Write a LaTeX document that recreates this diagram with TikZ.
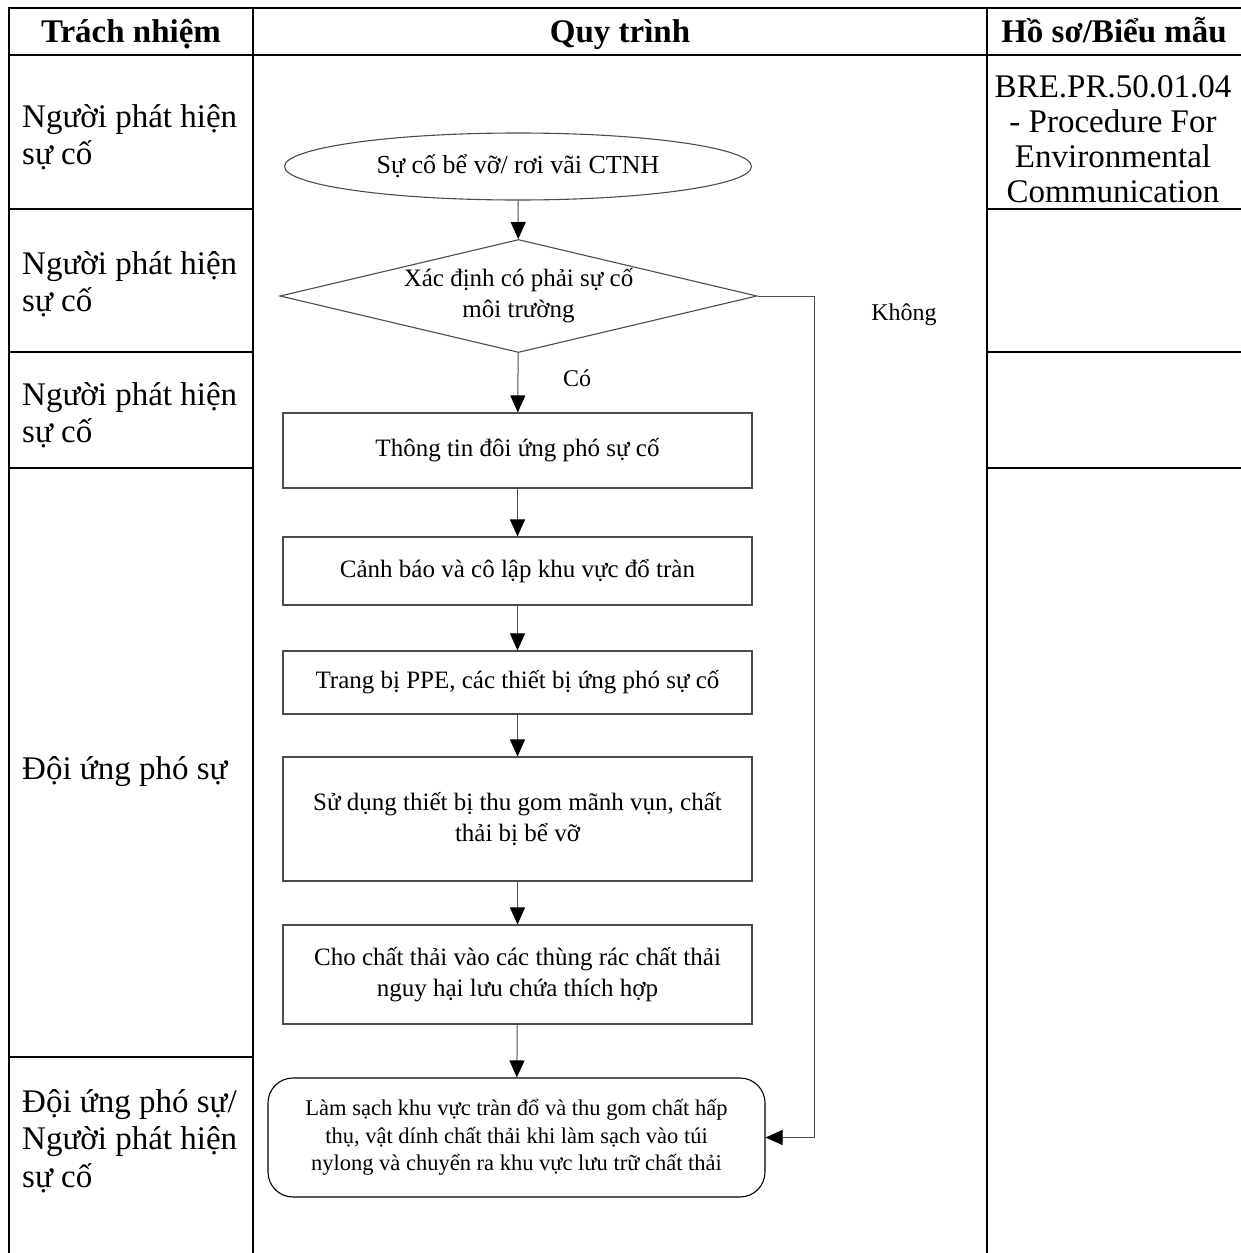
\documentclass[tikz,border=0pt]{standalone}
\usepackage{fontspec}
\setmainfont{Liberation Serif}
\usetikzlibrary{shapes.geometric,arrows.meta}

\begin{document}
\begin{tikzpicture}[x=1pt,y=-1pt,
  grid/.style={line width=2.6pt, black, line cap=rect},
  flow/.style={draw=black!70, line width=1.1pt, inner sep=0pt, align=center,
    font=\fontsize{25}{31}\selectfont},
  stepbox/.style={flow, rectangle, minimum width=469pt},
  link/.style={draw=black!70, line width=1pt, -{Triangle[length=17pt,width=15pt,black]}},
  lane/.style={anchor=west, align=left, inner sep=0pt, font=\fontsize{33}{37.5}\selectfont},
  head/.style={anchor=base, inner sep=0pt, font=\bfseries\fontsize{33}{37}\selectfont},
  note/.style={inner sep=0pt, font=\fontsize{24}{30}\selectfont},
]
\useasboundingbox (0,0) rectangle (1241,1253);

% table frame
\draw[grid] (9,8) -- (1241,8);
\draw[grid] (9,55) -- (1241,55);
\draw[grid] (9,8) -- (9,1253);
\draw[grid] (253,8) -- (253,1253);
\draw[grid] (987,8) -- (987,1253);
\foreach \y in {209,352,468,1057} \draw[grid] (9,\y) -- (253,\y);
\foreach \y in {209,352,468} \draw[grid] (987,\y) -- (1241,\y);

% header
\node[head] (h1) at (131,42) {Trách nhiệm};
\node[head] (h2) at (620,42) {Quy trình};
\node[head] (h3) at (1114,42) {Hồ sơ/Biểu mẫu};

% responsibility column
\node[lane] (r1) at (22,137) {Người phát hiện\\sự cố};
\node[lane] (r2) at (22,284) {Người phát hiện\\sự cố};
\node[lane] (r3) at (22,415) {Người phát hiện\\sự cố};
\node[lane] (r4) at (22,772) {Đội ứng phó sự};
\node[lane] (r5) at (22,1141) {Đội ứng phó sự/\\Người phát hiện\\sự cố};

% records column
\node[inner sep=0pt, align=center, font=\fontsize{33}{35}\selectfont] (doc) at (1113,139)
  {BRE.PR.50.01.04\\- Procedure For\\Environmental\\Communication};

% process
\node[flow, ellipse, minimum width=467pt, minimum height=67pt,
  font=\fontsize{26}{31}\selectfont] (start) at (518,166.5)
  {Sự cố bể vỡ/ rơi vãi CTNH};
\node[flow, diamond, aspect=4.22, minimum width=477pt, minimum height=113pt] (dia) at (518.5,296)
  {Xác định có phải sự cố\\môi trường};
\node[stepbox, minimum height=75pt] (s1) at (517.5,450.5) {Thông tin đôi ứng phó sự cố};
\node[stepbox, minimum height=68pt] (s2) at (517.5,571) {Cảnh báo và cô lập khu vực đổ tràn};
\node[stepbox, minimum height=63pt] (s3) at (517.5,682.5) {Trang bị PPE, các thiết bị ứng phó sự cố};
\node[stepbox, minimum height=124pt] (s4) at (517.5,819) {Sử dụng thiết bị thu gom mãnh vụn, chất\\thải bị bể vỡ};
\node[stepbox, minimum height=99pt] (s5) at (517.5,974.5) {Cho chất thải vào các thùng rác chất thải\\nguy hại lưu chứa thích hợp};
\node[flow, draw=black, rectangle, rounded corners=25pt, minimum width=497pt, minimum height=119pt,
  font=\fontsize{22.5}{27.5}\selectfont] (clean) at (516.5,1137.5)
  {Làm sạch khu vực tràn đổ và thu gom chất hấp\\thụ, vật dính chất thải khi làm sạch vào túi\\nylong và chuyển ra khu vực lưu trữ chất thải};

\draw[link] (start) -- (dia);
\draw[link] (dia) -- (s1);
\draw[link] (s1) -- (s2);
\draw[link] (s2) -- (s3);
\draw[link] (s3) -- (s4);
\draw[link] (s4) -- (s5);
\draw[link] (s5) -- (clean);
\draw[link] (dia.east) -- ++(57,0) |- (clean.east);

\node[note] (yes) at (577,378) {Có};
\node[note] (no) at (904,315) {Không};
\end{tikzpicture}
\end{document}
